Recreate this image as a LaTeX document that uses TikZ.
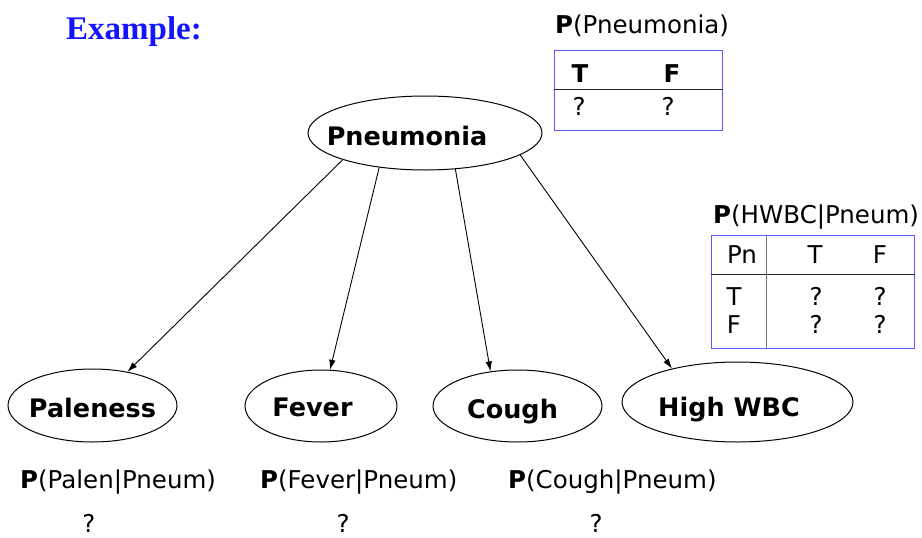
\documentclass[tikz,border=0pt]{standalone}
\usepackage{fontspec}
\setmainfont{DejaVu Sans}
\newfontfamily\exfont{Liberation Serif}
\usetikzlibrary{arrows.meta,shapes.geometric}
\definecolor{tblue}{RGB}{90,90,255}
\definecolor{exblue}{RGB}{20,20,255}
\tikzset{
  bn/.style={draw, ellipse, line width=1pt, inner sep=0pt, text height=24pt, text depth=0pt,
    font=\fontsize{25.5}{30}\selectfont\bfseries},
  txt/.style={inner sep=0pt, font=\fontsize{24.5}{29}\selectfont},
  lbl/.style={txt, anchor=base west},
  ctr/.style={txt, anchor=base},
  tbl/.style={draw=tblue, line width=1.4pt, inner sep=0pt, anchor=north west},
  edge/.style={line width=0.9pt, -{Latex[length=10pt,width=6.5pt]}},
}
\begin{document}
\begin{tikzpicture}[x=1pt,y=-1pt]
\useasboundingbox (0,0) rectangle (922,538);
% title
\node[anchor=base west, inner sep=0pt, text=exblue, font=\fontsize{33}{38}\exfont\bfseries] (ex) at (66,39) {Example:};
% nodes
\node[bn, minimum width=234pt, minimum height=74pt] (pn) at (425,133) {\hspace*{-36pt}Pneumonia};
\node[bn, minimum width=169pt, minimum height=73pt] (pal) at (92.5,405.5) {\hspace*{-20pt}Paleness\hspace*{-20pt}};
\node[bn, minimum width=152pt, minimum height=72pt, text height=20pt] (fev) at (321,406) {\hspace*{-17pt}Fever};
\node[bn, minimum width=169pt, minimum height=72pt] (cou) at (517.5,406) {\hspace*{-10pt}Cough};
\node[bn, minimum width=231pt, minimum height=80pt, text height=28pt] (wbc) at (737.5,402) {\hspace*{-17pt}High WBC};
% edges
\draw[edge] (pn.198.8) -- (pal.44);
\draw[edge] (pn.217.6) -- (fev.76);
\draw[edge] (pn.310.9) -- (cou.128.6);
\draw[edge] (pn.347.2) -- (wbc.153.3);
% table 1
\node[lbl] (t1title) at (555,33) {\textbf{P}(Pneumonia)};
\node[tbl, minimum width=168pt, minimum height=80pt] (t1) at (553.5,49.5) {};
\draw[line width=1.2pt, black!85] ([yshift=-40pt]t1.north west) -- ([yshift=-40pt]t1.north east);
\node[ctr, font=\fontsize{24.5}{29}\selectfont\bfseries] (t1T) at (580,82) {T};
\node[ctr, font=\fontsize{24.5}{29}\selectfont\bfseries] (t1F) at (672,82) {F};
\node[ctr] (t1q1) at (579,115) {?};
\node[ctr] (t1q2) at (668,115) {?};
% table 2
\node[lbl] (t2title) at (713,223) {\textbf{P}(HWBC|Pneum)};
\node[tbl, minimum width=203pt, minimum height=113pt] (t2) at (710.5,234.5) {};
\draw[line width=1.2pt, black!85] ([yshift=-40pt]t2.north west) -- ([yshift=-40pt]t2.north east);
\draw[line width=1.2pt, black!55] ([xshift=56pt]t2.north west) -- ([xshift=56pt]t2.south west);
\node[ctr] (t2pn) at (742,263) {Pn};
\node[ctr] (t2T) at (815,263) {T};
\node[ctr] (t2F) at (880,263) {F};
\node[ctr] (t2rT) at (734,305) {T};
\node[ctr] (t2rF) at (734,333) {F};
\node[ctr] (t2q11) at (816,305) {?};
\node[ctr] (t2q12) at (880,305) {?};
\node[ctr] (t2q21) at (816,333) {?};
\node[ctr] (t2q22) at (880,333) {?};
% bottom labels
\node[lbl] (lpal) at (20,488) {\textbf{P}(Palen|Pneum)};
\node[lbl] (lfev) at (260,488) {\textbf{P}(Fever|Pneum)};
\node[lbl] (lcou) at (508,488) {\textbf{P}(Cough|Pneum)};
\node[ctr] (qpal) at (89,532) {?};
\node[ctr] (qfev) at (343,532) {?};
\node[ctr] (qcou) at (596,532) {?};
\end{tikzpicture}
\end{document}
